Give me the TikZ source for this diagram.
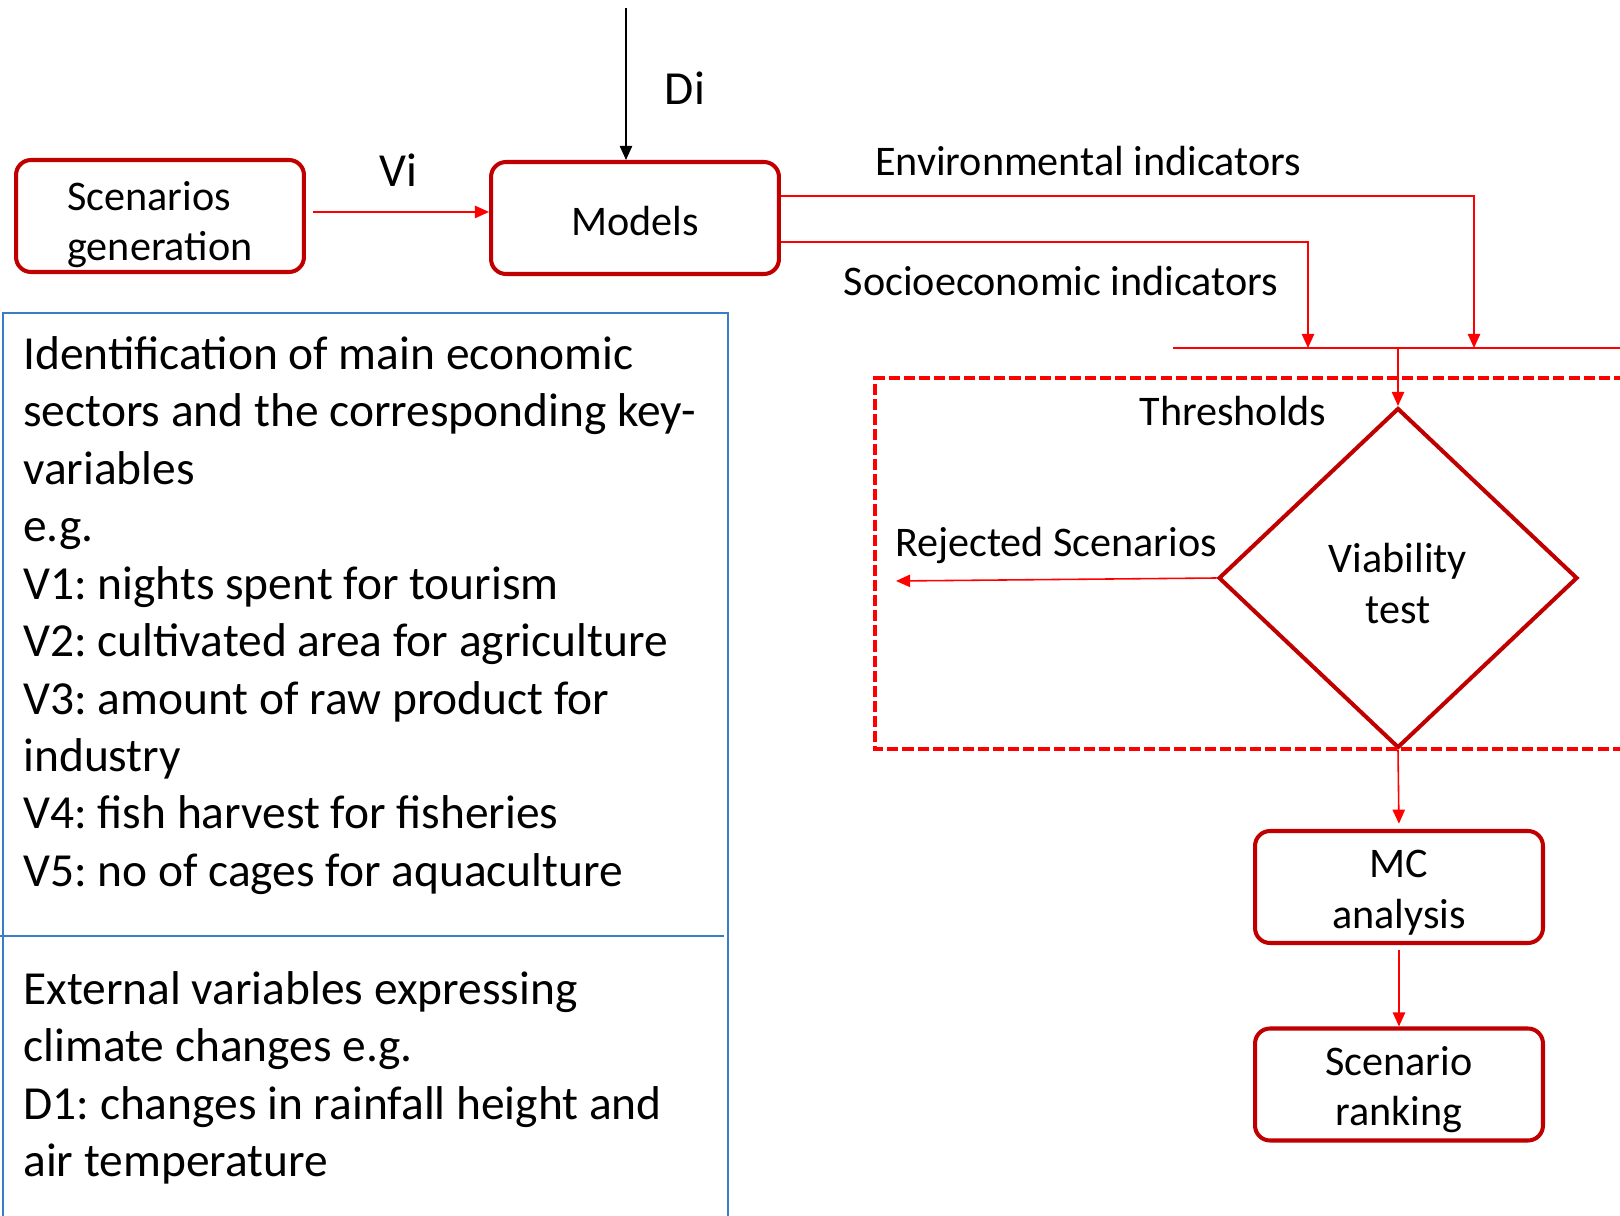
\documentclass[tikz,border=0pt]{standalone}
\usepackage{fontspec}
\setmainfont{Carlito}
\usetikzlibrary{positioning,arrows.meta,shapes.geometric}
\definecolor{boxred}{HTML}{C00000}
\definecolor{linered}{HTML}{FF0000}
\definecolor{paneblue}{HTML}{3B7DC4}
\frenchspacing

\begin{document}
\begin{tikzpicture}[x=0.02cm,y=0.02cm,
box/.style={rectangle,rounded corners=0.3cm,draw=boxred,line width=2.3pt,align=center,inner ysep=2pt,minimum width=5.76cm,minimum height=2.24cm,text depth=0pt,font=\fontsize{24}{28.7}\selectfont},
test/.style={diamond,draw=boxred,line width=2.3pt,align=center,minimum width=7.18cm,minimum height=6.8cm,inner sep=0pt,text height=51.5pt,text depth=0pt,font=\fontsize{24}{28.7}\selectfont},
arrow/.style={-{Triangle[length=8pt,width=7pt]},linered,line width=0.9pt},
lbl/.style={font=\fontsize{24}{28.7}\selectfont},
biglbl/.style={font=\fontsize{27}{32}\selectfont},
panetext/.style={anchor=north west,inner sep=0pt,align=left,font=\fontsize{27}{32.7}\selectfont}
]
\useasboundingbox (0,0) rectangle (1620,1215);

% flow boxes
\node[box,align=left,text height=51pt] (scen) at (160,999) {Scenarios\\generation};
\node[box,text height=20pt] (models) at (635,997) {Models};
\node[test] (viab) at (1398,637) {Viability\\test};
\node[box,text height=47pt] (mc) at (1399,328) {MC\\analysis};
\node[box,text height=47pt,below=1.63cm of mc] (rank) {Scenario\\ranking};

% free ends
\coordinate (ditop) at (626,1207);
\coordinate (busL) at (1173,867);
\coordinate (busR) at (1630,867);
\coordinate (envdrop) at (1474,867);
\coordinate (socdrop) at (1308,867);
\coordinate (rejend) at (896,634);

% labels
\node[biglbl] (di) at (685,1127) {Di};
\node[biglbl] (vi) at (398,1045) {Vi};
\node[lbl] (envlbl) at (1088,1054) {Environmental indicators};
\node[lbl] (soclbl) at (1061,934) {Socioeconomic indicators};
\node[lbl] (thr) at (1233,804) {Thresholds};
\node[lbl] (rej) at (1056,670) {Rejected Scenarios};

% viability frame
\draw[linered,line width=2.8pt,dash pattern=on 6.3pt off 2.3pt] (1640,837) -| (875,466) -- (1640,466);

% connectors
\draw[-{Triangle[length=8pt,width=7pt]},line width=0.9pt] (ditop) -- (ditop |- models.north);
\draw[arrow] ([shift={(4pt,2.3pt)}]scen.east) -- ([yshift=2.3pt]scen.east -| models.west);
\draw[arrow] ([yshift=12.5pt]models.east) -| (envdrop);
\draw[arrow] ([yshift=-13.6pt]models.east) -| (socdrop);
\draw[linered,line width=0.9pt] (busL) -- (busR);
\draw[arrow] (busL -| viab.north) -- (viab.north);
\draw[arrow] (viab.west) -- (rejend);
\draw[arrow,shorten >=3pt] (viab.south) -- (mc.north);
\draw[arrow,shorten <=3pt] (mc.south) -- (rank.north);

% variables pane
\draw[paneblue,line width=1.1pt] (3,-20) |- (728,902) -- (728,-20);
\draw[paneblue,line width=1.1pt] (0,279) -- (724,279);
\node[panetext] (sectors) at (23,879) {Identification of main economic\\sectors and the corresponding key-\\variables\\e.g.\\V1: nights spent for tourism\\V2: cultivated area for agriculture\\V3: amount of raw product for\\industry\\V4: fish harvest for fisheries\\V5: no of cages for aquaculture};
\node[panetext] (external) at (23,244) {External variables expressing\\climate changes e.g.\\D1: changes in rainfall height and\\air temperature};
\end{tikzpicture}
\end{document}
